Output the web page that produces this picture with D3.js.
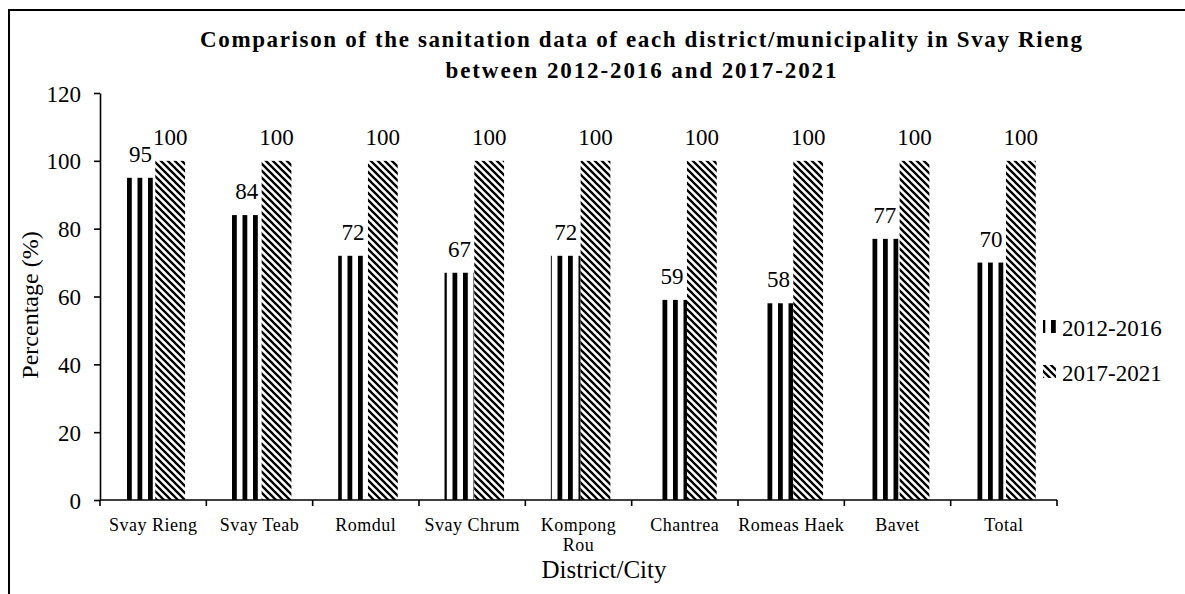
<!DOCTYPE html>
<html><head><meta charset="utf-8">
<script src="https://cdn.jsdelivr.net/npm/d3@7"></script>
<style>body{margin:0;background:#fff}svg{display:block}svg text{font-family:"Times New Roman",Times,"Liberation Serif",serif !important;fill:#000}</style>
</head><body>
<svg id="c" width="1185" height="594"></svg>
<script>
const categories = ["Svay Rieng","Svay Teab","Romdul","Svay Chrum","Kompong Rou","Chantrea","Romeas Haek","Bavet","Total"];
const seriesNames = ["2012-2016","2017-2021"];
const values2012 = [95,84,72,67,72,59,58,77,70];
const values2017 = [100,100,100,100,100,100,100,100,100];
const yTicks = [0,20,40,60,80,100,120];
const titleLines = ["Comparison  of the sanitation data of each district/municipality  in Svay Rieng","between  2012-2016 and 2017-2021"];

const svg = d3.select("#c");
const defs = svg.append("defs");
// vertical stripes
const p1 = defs.append("pattern").attr("id","vstripe").attr("patternUnits","userSpaceOnUse")
  .attr("width",10.5).attr("height",10).attr("x",127);
p1.append("rect").attr("width",10.5).attr("height",10).attr("fill","#fff");
p1.append("rect").attr("x",0).attr("width",4.8).attr("height",10).attr("fill","#000");
// diagonal "\" hatch
const p2 = defs.append("pattern").attr("id","dhatch").attr("patternUnits","userSpaceOnUse")
  .attr("width",7).attr("height",7);
p2.append("rect").attr("width",7).attr("height",7).attr("fill","#fff");
p2.append("path").attr("d","M-1,-1L8,8M-8,-1L1,8M6,-1L15,8M-1,6L1,8M6,-1L8,1")
  .attr("stroke","#000").attr("stroke-width",2.3);

// frame
svg.append("path").attr("d","M9,600V10H1190").attr("fill","none").attr("stroke","#000").attr("stroke-width",2);

const x0 = 100, x1 = 1057, yB = 500, yT = 93;
const x = d3.scaleBand().domain(categories).range([x0,x1]).padding(0);
const bw = x.bandwidth();
const y = d3.scaleLinear().domain([0,120]).range([yB,yT]);
const barW = bw*0.28, off = bw*0.24;

// title
titleLines.forEach((t,i)=>{
  svg.append("text").attr("x",641).attr("y",[47,78][i]).attr("text-anchor","middle")
    .attr("font-size",23).attr("font-weight","bold")
    .attr("textLength",[882,391][i]).attr("lengthAdjust","spacing").text(t);
});

// bars
const g = svg.append("g");
g.selectAll(".b1").data(categories).join("rect")
  .attr("x",d=>x(d)+off).attr("width",barW)
  .attr("y",(d,i)=>y(values2012[i])).attr("height",(d,i)=>yB-y(values2012[i]))
  .attr("fill","url(#vstripe)");
g.selectAll(".b2").data(categories).join("rect")
  .attr("x",d=>x(d)+off+barW).attr("width",barW)
  .attr("y",(d,i)=>y(values2017[i])).attr("height",(d,i)=>yB-y(values2017[i]))
  .attr("fill","url(#dhatch)");

// value labels
g.selectAll(".l1").data(categories).join("text")
  .attr("x",d=>x(d)+off+barW/2).attr("y",(d,i)=>y(values2012[i])-16)
  .attr("text-anchor","middle").attr("font-size",23).text((d,i)=>values2012[i]);
g.selectAll(".l2").data(categories).join("text")
  .attr("x",d=>x(d)+off+barW*1.5).attr("y",(d,i)=>y(values2017[i])-16)
  .attr("text-anchor","middle").attr("font-size",23).text((d,i)=>values2017[i]);

// y axis
const ya = svg.append("g").attr("transform",`translate(${x0},0)`)
  .call(d3.axisLeft(y).tickValues(yTicks).tickSize(6).tickSizeOuter(0).tickPadding(13));
ya.selectAll("text").attr("font-size",23).attr("dy","0.35em");
ya.selectAll("line,path").attr("stroke","#000").attr("stroke-width",1.6);

// x axis
const xa = svg.append("g");
xa.append("line").attr("x1",x0).attr("x2",x1).attr("y1",yB).attr("y2",yB).attr("stroke","#000").attr("stroke-width",1.6);
const bounds = categories.map(c=>x(c)).concat([x1]);
xa.selectAll(".t").data(bounds).join("line").attr("x1",d=>d).attr("x2",d=>d)
  .attr("y1",yB).attr("y2",yB+6).attr("stroke","#000").attr("stroke-width",1.6);
xa.selectAll(".xl").data(categories).join("text")
  .attr("x",d=>x(d)+bw/2).attr("y",531).attr("text-anchor","middle").attr("font-size",18)
  .attr("letter-spacing",0.5)
  .each(function(d){
    const el = d3.select(this);
    const parts = d==="Kompong Rou" ? ["Kompong","Rou"] : [d];
    parts.forEach((p,i)=>el.append("tspan").attr("x",x(d)+bw/2).attr("dy",i?20:0).text(p));
  });

// axis titles
svg.append("text").attr("x",604).attr("y",578).attr("text-anchor","middle").attr("font-size",25).text("District/City");
svg.append("text").attr("transform","translate(38,305) rotate(-90)").attr("text-anchor","middle").attr("font-size",24).text("Percentage (%)");

// legend
const leg = svg.append("g");
seriesNames.forEach((s,i)=>{
  const yy = [320,365][i];
  leg.append("rect").attr("x",1043).attr("y",yy).attr("width",13).attr("height",13)
    .attr("fill",i?"url(#dhatch)":"url(#vstripe)");
  leg.append("text").attr("x",1062).attr("y",yy+16).attr("font-size",23).text(s);
});
</script>
</body></html>
